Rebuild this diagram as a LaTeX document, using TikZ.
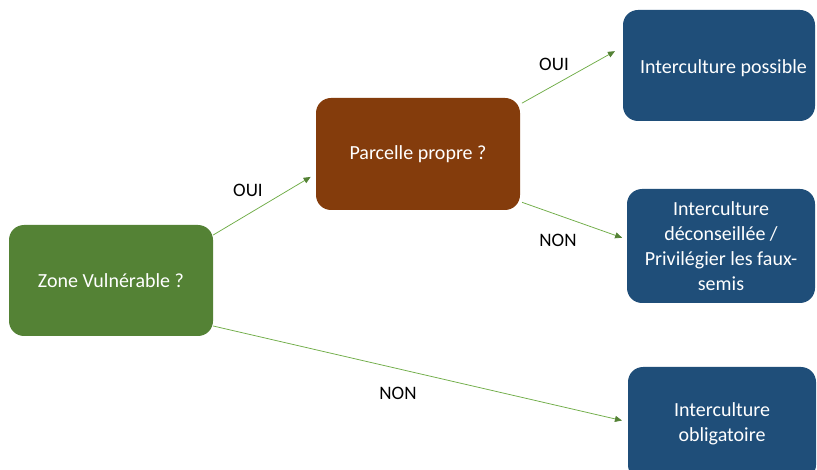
\documentclass[tikz,border=0pt]{standalone}
\usepackage{fontspec}
\setmainfont{Carlito}
\usetikzlibrary{arrows.meta}
\definecolor{zgreen}{RGB}{84,130,53}
\definecolor{zbrown}{RGB}{132,60,12}
\definecolor{zblue}{RGB}{31,78,121}
\definecolor{zline}{RGB}{112,173,71}
\definecolor{zhead}{RGB}{84,130,53}
\begin{document}
\begin{tikzpicture}[x=1pt,y=-1pt,
  box/.style={rounded corners=15pt, draw=none, text=white, align=center,
    font=\fontsize{20}{25}\selectfont, inner sep=0pt},
  conn/.style={draw=zline, line width=0.75pt,
    -{Triangle[length=7pt,width=6pt,fill=zhead,color=zhead]}},
  lbl/.style={font=\fontsize{19}{22}\selectfont, text=black}]
\useasboundingbox (0,0) rectangle (817,470);
\fill[white] (0,0) rectangle (817,470);
\node[box, fill=zgreen, minimum width=204pt, minimum height=111pt] (g) at (111,280.5) {Zone Vulnérable ?};
\node[box, fill=zbrown, minimum width=204pt, minimum height=112pt] (b) at (418,154) {Parcelle propre ?};
\node[box, fill=zblue, minimum width=192pt, minimum height=111pt] (p1) at (719,65.5) {\raisebox{-3.5pt}[14pt][5pt]{\hspace*{9pt}Interculture possible}};
\node[box, fill=zblue, minimum width=188pt, minimum height=114pt] (p2) at (721,246) {Interculture\\déconseillée /\\Privilégier les faux-\\semis};
\node[box, fill=zblue, minimum width=188pt, minimum height=113pt] (p3) at (722,423.5) {Interculture\\obligatoire};
\draw[conn, shorten >=6pt] (g.24.5) -- (b.191.6);
\draw[conn, shorten >=9pt, shorten <=2pt] (b.26.1) -- (p1.169.7);
\draw[conn, shorten >=5pt, shorten <=2pt] (b.335.3) -- (p2.176.3);
\draw[conn, shorten >=6pt] (g.336) -- (p3.179.1);
\node[lbl] (l1) at (248,190) {OUI};
\node[lbl] (l2) at (554,64) {OUI};
\node[lbl] (l3) at (558,240) {NON};
\node[lbl] (l4) at (398,393) {NON};
\end{tikzpicture}
\end{document}
